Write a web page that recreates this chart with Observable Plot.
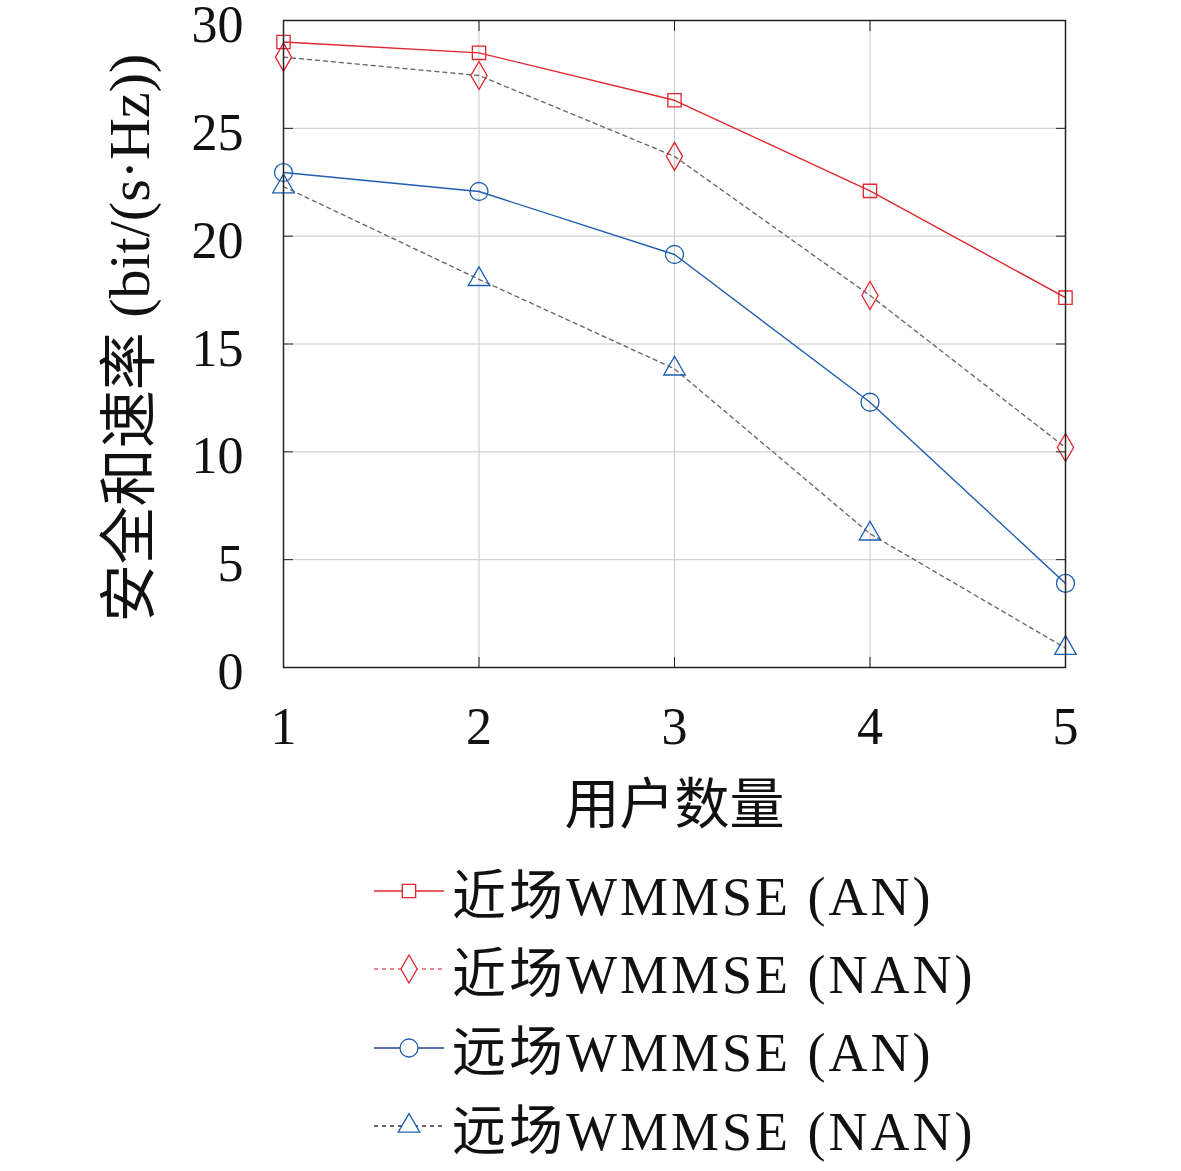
<!DOCTYPE html>
<html>
<head>
<meta charset="utf-8">
<script src="https://cdn.jsdelivr.net/npm/d3@7"></script>
<script src="https://cdn.jsdelivr.net/npm/@observablehq/plot@0.6"></script>
<style>
  html, body { margin: 0; padding: 0; background: #ffffff; }
  #wrap { position: relative; width: 1181px; height: 1171px; font-family: "Liberation Serif", "Noto Sans CJK SC", serif; }
  #legend { position: absolute; left: 372px; top: 852px; }
  .row { display: flex; align-items: center; height: 78.3px; }
  .row span { font-size: 54px; color: #111; margin-left: 6px; white-space: nowrap; letter-spacing: 3px; }
</style>
</head>
<body>
<div id="wrap"><div id="chart"></div><div id="legend"></div></div>
<script>
const users = [1, 2, 3, 4, 5];
const nearAN  = [29.0, 28.5, 26.3, 22.1, 17.15];
const nearNAN = [28.3, 27.45, 23.7, 17.25, 10.2];
const farAN   = [22.95, 22.07, 19.15, 12.3, 3.9];
const farNAN  = [22.3, 18.0, 13.85, 6.2, 0.9];
const seriesNames = ["近场WMMSE (AN)", "近场WMMSE (NAN)", "远场WMMSE (AN)", "远场WMMSE (NAN)"];
const yTicks = [0, 5, 10, 15, 20, 25, 30];
const xLabel = "用户数量";
const yLabel = "安全和速率 (bit/(s·Hz))";

const red = "#e0262e", blue = "#1f5fb0", gray = "#6b6b6b";
const styles = [
  {line: red, dash: null, marker: red, symbol: "square", r: 7.5},
  {line: gray, dash: "4,4", marker: red, symbol: "diamond", r: 8.5},
  {line: blue, dash: null, marker: blue, symbol: "circle", r: 9},
  {line: gray, dash: "4,4", marker: blue, symbol: "triangle", r: 8}
];
const allSeries = [nearAN, nearNAN, farAN, farNAN];
const rows = allSeries.map((vals, i) => vals.map((v, j) => ({x: users[j], y: v, s: i})));

const marks = [
  Plot.gridX(users, {stroke: "#c8c8c8", strokeOpacity: 1, strokeWidth: 1}),
  Plot.gridY(yTicks, {stroke: "#c8c8c8", strokeOpacity: 1, strokeWidth: 1}),
];
rows.forEach((r, i) => {
  marks.push(Plot.line(r, {x: "x", y: "y", stroke: styles[i].line, strokeWidth: 1.4, strokeDasharray: styles[i].dash}));
});
rows.forEach((r, i) => {
  marks.push(Plot.dot(r, {x: "x", y: "y", symbol: () => styles[i].symbol, r: styles[i].r, stroke: styles[i].marker, fill: "none", strokeWidth: 1.3}));
});
marks.push(
  Plot.frame({stroke: "#222", strokeWidth: 1.5}),
  Plot.axisY(yTicks, {tickSize: 0, tickPadding: 40, dy: 5, fontSize: 52, fontFamily: "Liberation Serif", label: null, tickFormat: d => String(d)}),
  Plot.axisX(users, {tickSize: 0, tickPadding: 40, fontSize: 52, fontFamily: "Liberation Serif", label: null, tickFormat: d => String(d)}),
  Plot.axisY(yTicks, {anchor: "left", tickSize: -10, tickFormat: () => "", label: null, stroke: "#222"}),
  Plot.axisY(yTicks, {anchor: "right", tickSize: -10, tickFormat: () => "", label: null, stroke: "#222"}),
  Plot.axisX(users, {anchor: "bottom", tickSize: -10, tickFormat: () => "", label: null, stroke: "#222"}),
  Plot.axisX(users, {anchor: "top", tickSize: -10, tickFormat: () => "", label: null, stroke: "#222"}),
  Plot.text([xLabel], {text: d => d, frameAnchor: "bottom", lineAnchor: "middle", dy: 138, fontSize: 55, fontFamily: "Noto Sans CJK SC", fill: "#111"}),
  Plot.text([yLabel], {text: d => d, frameAnchor: "left", textAnchor: "middle", lineAnchor: "middle", dx: -153, dy: -6, rotate: -90, fontSize: 58, fontFamily: "Liberation Serif, Noto Sans CJK SC", fill: "#111"})
);

const chart = Plot.plot({
  width: 1181,
  height: 850,
  marginLeft: 283,
  marginRight: 116,
  marginTop: 20,
  marginBottom: 183,
  x: {domain: [1, 5]},
  y: {domain: [0, 30]},
  style: {background: "transparent", color: "#111", overflow: "visible"},
  marks
});
document.getElementById("chart").appendChild(chart);

// Legend
const legend = document.getElementById("legend");
const legendLine = ["#e0262e", "#e0607a", "#1f3f9a", "#333"];
seriesNames.forEach((name, i) => {
  const row = document.createElement("div");
  row.className = "row";
  const svg = d3.create("svg").attr("width", 74).attr("height", 40);
  svg.append("line").attr("x1", 2).attr("x2", 72).attr("y1", 20).attr("y2", 20)
    .attr("stroke", legendLine[i]).attr("stroke-width", 1.4)
    .attr("stroke-dasharray", styles[i].dash);
  const sym = {square: d3.symbolSquare, diamond: d3.symbolDiamond, circle: d3.symbolCircle, triangle: d3.symbolTriangle}[styles[i].symbol];
  svg.append("path").attr("transform", "translate(37,20)")
    .attr("d", d3.symbol(sym, Math.PI * styles[i].r * styles[i].r)())
    .attr("fill", "white").attr("stroke", styles[i].marker).attr("stroke-width", 1.3);
  row.appendChild(svg.node());
  const span = document.createElement("span");
  span.textContent = name;
  row.appendChild(span);
  legend.appendChild(row);
});
</script>
</body>
</html>
